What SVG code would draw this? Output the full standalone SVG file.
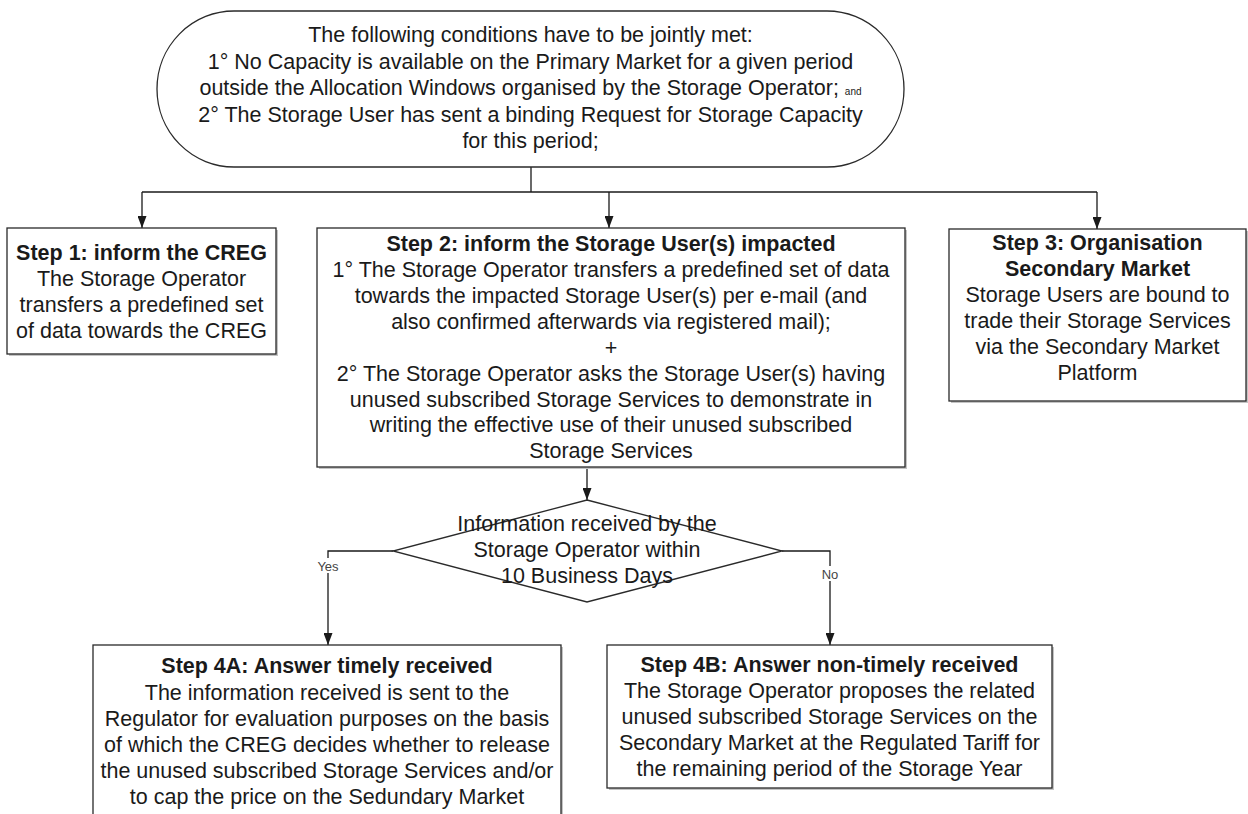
<svg xmlns="http://www.w3.org/2000/svg" width="1248" height="814" viewBox="0 0 1248 814">
<style>
  text { font-family: "Liberation Sans", Arial, sans-serif; font-size: 21.5px; fill: #1a1a1a; text-anchor: middle; }
  .b { font-weight: bold; }
  .small { font-size: 10px; }
  .lbl { font-size: 13px; fill: #444; }
  .shape { fill: #ffffff; stroke: #2a2a2a; stroke-width: 1.3; }
  .shadow { fill: #c4c4c4; stroke: none; }
  .conn { fill: none; stroke: #1a1a1a; stroke-width: 1.3; }
</style>
<defs>
  <marker id="arrow" markerUnits="userSpaceOnUse" markerWidth="12" markerHeight="9" refX="12" refY="4.5" orient="auto">
    <path d="M0,0 L12,4.5 L0,9 z" fill="#1a1a1a"/>
  </marker>
</defs>
<rect width="1248" height="814" fill="#ffffff"/>

<g id="connectors">
  <path class="conn" d="M531,167 V192"/>
  <path class="conn" d="M142,192 H1097"/>
  <path class="conn" d="M142,192 V228" marker-end="url(#arrow)"/>
  <path class="conn" d="M609,192 V228" marker-end="url(#arrow)"/>
  <path class="conn" d="M1097,192 V229" marker-end="url(#arrow)"/>
  <path class="conn" d="M610,467 V465 H587 V500" marker-end="url(#arrow)"/>
  <path class="conn" d="M393,551 H328 V645" marker-end="url(#arrow)"/>
  <path class="conn" d="M782,551 H830 V645" marker-end="url(#arrow)"/>
  <rect x="314" y="558" width="28" height="15" fill="#ffffff"/>
  <text class="lbl" x="328" y="571">Yes</text>
  <rect x="820" y="566" width="20" height="15" fill="#ffffff"/>
  <text class="lbl" x="830" y="579">No</text>
</g>

<g id="start">
  <rect class="shape" x="157" y="11" width="747" height="156" rx="77" ry="78"/>
  <text x="530.5" y="42">The following conditions have to be jointly met:</text>
  <text x="530.5" y="68.5">1° No Capacity is available on the Primary Market for a given period</text>
  <text x="530.5" y="95">outside the Allocation Windows organised by the Storage Operator; <tspan class="small">and</tspan></text>
  <text x="530.5" y="121.5">2° The Storage User has sent a binding Request for Storage Capacity</text>
  <text x="530.5" y="148">for this period;</text>
</g>

<g id="step1">
  <rect class="shadow" x="9" y="230" width="269" height="126"/>
  <rect class="shape" x="7" y="228" width="269" height="126"/>
  <text class="b" x="141.5" y="260">Step 1: inform the CREG</text>
  <text x="141.5" y="286">The Storage Operator</text>
  <text x="141.5" y="312">transfers a predefined set</text>
  <text x="141.5" y="338">of data towards the CREG</text>
</g>

<g id="step2">
  <rect class="shadow" x="319" y="230" width="588" height="239"/>
  <rect class="shape" x="317" y="228" width="588" height="239"/>
  <text class="b" x="611" y="251">Step 2: inform the Storage User(s) impacted</text>
  <text x="611" y="277">1° The Storage Operator transfers a predefined set of data</text>
  <text x="611" y="303">towards the impacted Storage User(s) per e-mail (and</text>
  <text x="611" y="329">also confirmed afterwards via registered mail);</text>
  <text x="611" y="355">+</text>
  <text x="611" y="381">2° The Storage Operator asks the Storage User(s) having</text>
  <text x="611" y="406.5">unused subscribed Storage Services to demonstrate in</text>
  <text x="611" y="432">writing the effective use of their unused subscribed</text>
  <text x="611" y="457.5">Storage Services</text>
</g>

<g id="step3">
  <rect class="shadow" x="951" y="231" width="297" height="172"/>
  <rect class="shape" x="949" y="229" width="297" height="172"/>
  <text class="b" x="1097.5" y="250">Step 3: Organisation</text>
  <text class="b" x="1097.5" y="276">Secondary Market</text>
  <text x="1097.5" y="302">Storage Users are bound to</text>
  <text x="1097.5" y="328">trade their Storage Services</text>
  <text x="1097.5" y="354">via the Secondary Market</text>
  <text x="1097.5" y="380">Platform</text>
</g>

<g id="decision">
  <path class="shape" d="M587,500 L782,551 L587,602 L393,551 Z"/>
  <text x="587" y="531">Information received by the</text>
  <text x="587" y="557">Storage Operator within</text>
  <text x="587" y="583">10 Business Days</text>
</g>

<g id="step4a">
  <rect class="shadow" x="95" y="647" width="468" height="190"/>
  <rect class="shape" x="93" y="645" width="468" height="190"/>
  <text class="b" x="327" y="673">Step 4A: Answer timely received</text>
  <text x="327" y="699.5">The information received is sent to the</text>
  <text x="327" y="725.5">Regulator for evaluation purposes on the basis</text>
  <text x="327" y="751.5">of which the CREG decides whether to release</text>
  <text x="327" y="777.5">the unused subscribed Storage Services and/or</text>
  <text x="327" y="803.5">to cap the price on the Sedundary Market</text>
</g>

<g id="step4b">
  <rect class="shadow" x="609" y="647" width="445" height="143"/>
  <rect class="shape" x="607" y="645" width="445" height="143"/>
  <text class="b" x="829.5" y="672">Step 4B: Answer non-timely received</text>
  <text x="829.5" y="698">The Storage Operator proposes the related</text>
  <text x="829.5" y="724">unused subscribed Storage Services on the</text>
  <text x="829.5" y="750">Secondary Market at the Regulated Tariff for</text>
  <text x="829.5" y="776">the remaining period of the Storage Year</text>
</g>
</svg>
